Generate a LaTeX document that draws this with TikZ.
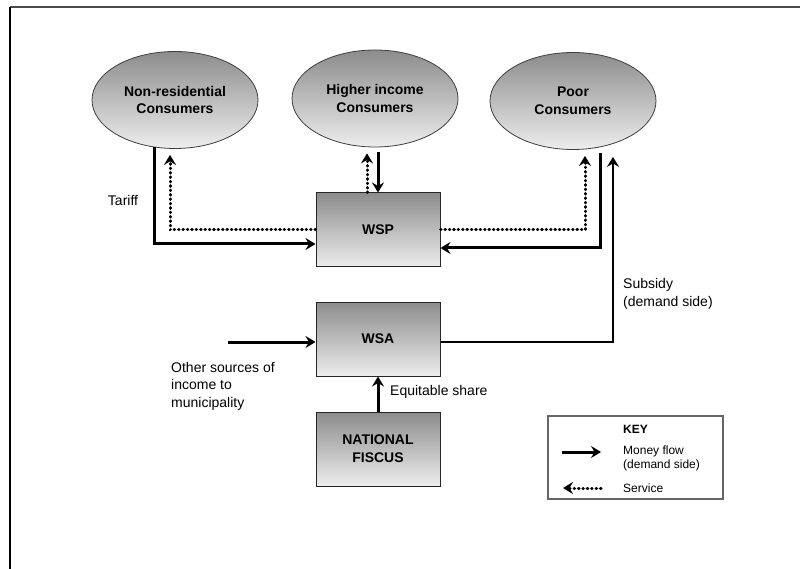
\documentclass[tikz,border=0pt]{standalone}
\usepackage{fontspec}
\setmainfont{Liberation Sans}
\usetikzlibrary{arrows.meta,shapes.geometric,calc}

\definecolor{shadetop}{gray}{0.55}
\definecolor{shadebot}{gray}{0.93}

\tikzset{
  consumer/.style={ellipse,draw=black!75,line width=0.8pt,top color=shadetop,bottom color=shadebot,
    minimum width=166pt,minimum height=97pt,inner sep=0pt,align=center,
    font=\bfseries\fontsize{14}{17.5}\selectfont},
  agency/.style={rectangle,draw=black!85,line width=1pt,top color=shadetop,bottom color=shadebot,
    minimum width=124pt,minimum height=74pt,inner sep=0pt,align=center,
    font=\bfseries\fontsize{14}{18}\selectfont},
  money/.style={line width=3pt,-{Stealth[length=10pt,width=12pt,inset=3.5pt]}},
  service/.style={line width=3pt,dash pattern=on 0.6pt off 3.8pt,line cap=round,
    -{Stealth[length=10pt,width=12pt,inset=3.5pt]}},
  lbl/.style={font=\fontsize{14}{17.5}\selectfont,align=left,inner sep=0pt},
  keytext/.style={font=\fontsize{12}{14}\selectfont,align=left,inner sep=0pt}
}

\begin{document}
\begin{tikzpicture}[x=1pt,y=-1pt]
\useasboundingbox (0,0) rectangle (800,569);
% frame
\draw[black!70,line width=1.6pt] (800,7) -- (10,7);
\draw[line width=1.2pt] (10,7) -- (10,569);

 \draw (175,100) node[consumer] (nonres) {Non-residential\\Consumers};
 \draw (375,98.5) node[consumer] (higher) {Higher income\\Consumers};
 \draw (573,101) node[consumer] (poor) {Poor\\Consumers};

  \draw (378,230) node[agency] (wsp) {WSP};
  \draw (378,339) node[agency] (wsa) {WSA};
  \draw (378,449) node[agency] (fiscus) {NATIONAL\\FISCUS};

\coordinate (othsrc) at (228,342);

% money flow
\draw[money] (nonres.247) |- ($(wsp.west)+(0,14)$);
\path[money] ($(higher.south)+(3,5)$) edge (wsp.north);
\draw[money] ($(poor.south)+(27,3)$) |- ($(wsp.east)+(0,18)$);
\draw[money,line width=2.5pt] ($(wsa.east)+(0,3)$) -| ($(poor.south)+(40,7)$);
\path[money] (othsrc) edge ($(wsa.west)+(0,3)$);
\path[money] (fiscus.north) edge (wsa.south);

% service
\draw[service] (wsp.west) -| ($(nonres.south)+(-5,6)$);
\path[service] ($(wsp.north)+(-11,0)$) edge ($(higher.south)+(-8,6)$);
\draw[service] (wsp.east) -| ($(poor.south)+(12,6)$);

% labels
  \draw (123,200) node[lbl] (tariff) {Tariff};
  \draw (171,362) node[lbl,anchor=north west] (othtxt) {Other sources of\\income to\\municipality};
  \draw (623,294) node[lbl,anchor=west] (subtxt) {Subsidy\\(demand side)};
  \draw (390,392) node[lbl,anchor=west] (eqtxt) {Equitable share};

% key
  \draw (635.5,457.5) node[draw=black!60,line width=1.2pt,minimum width=175pt,minimum height=83pt] (keybox) {};
  \draw (623,429) node[keytext,anchor=west,font=\bfseries\fontsize{12}{14}\selectfont] (keyhd) {KEY};
  \draw (623,458) node[keytext,anchor=west] (keymoney) {Money flow\\(demand side)};
  \draw (623,488) node[keytext,anchor=west] (keyserv) {Service};
\coordinate (kma) at (562,452);
\coordinate (kmb) at (601,452);
\coordinate (ksa) at (601,488);
\coordinate (ksb) at (563,488);
\draw[money] (kma) -- (kmb);
\draw[service] (ksa) -- (ksb);

\end{tikzpicture}
\end{document}
